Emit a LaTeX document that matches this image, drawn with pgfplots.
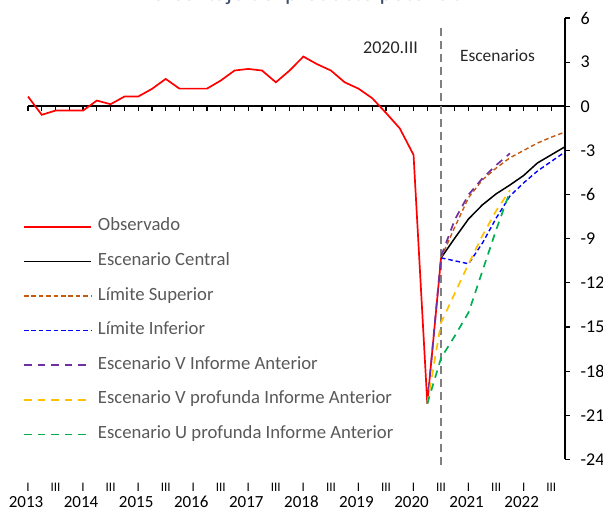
\documentclass[border=0pt]{standalone}
\usepackage{fontspec}
\setmainfont{Carlito}
\usepackage{pgfplots}
\pgfplotsset{compat=1.18}
\definecolor{cOrange}{HTML}{C55A11}
\definecolor{cBlue}{HTML}{0000FF}
\definecolor{cPurple}{HTML}{7030A0}
\definecolor{cYellow}{HTML}{FFC000}
\definecolor{cGreen}{HTML}{00B050}
\definecolor{cRed}{HTML}{FF0000}
\definecolor{cGray}{HTML}{808080}
\definecolor{cText}{HTML}{595959}
\definecolor{cTitle}{HTML}{3B4E6B}

\pgfplotstableread{
q val
0 0.66
1 -0.58
2 -0.29
3 -0.29
4 -0.29
5 0.39
6 0.14
7 0.66
8 0.66
9 1.18
10 1.86
11 1.2
12 1.2
13 1.2
14 1.75
15 2.43
16 2.54
17 2.43
18 1.63
19 2.43
20 3.38
21 2.86
22 2.43
23 1.63
24 1.2
25 0.55
26 -0.45
27 -1.5
28 -3.3
29 -20.2
30 -10.3
}\observado

\pgfplotstableread{
q val
30 -10.3
31 -8.95
32 -7.65
33 -6.7
34 -5.95
35 -5.35
36 -4.7
37 -3.85
38 -3.3
39 -2.75
}\central

\pgfplotstableread{
q val
30 -10.3
31 -8.2
32 -6.2
33 -5.0
34 -4.2
35 -3.5
36 -3.0
37 -2.5
38 -2.1
39 -1.75
}\superior

\pgfplotstableread{
q val
30 -10.3
31 -10.5
32 -10.7
33 -9.3
34 -7.6
35 -6.1
36 -5.2
37 -4.4
38 -3.75
39 -3.1
}\inferior

\pgfplotstableread{
q val
29 -20.2
30 -10.2
31 -7.7
32 -6.0
33 -4.9
34 -4.0
35 -3.2
}\escV

\pgfplotstableread{
q val
29 -20.2
30 -14.7
31 -12.7
32 -10.7
33 -8.8
34 -7.1
35 -5.7
}\escVprof

\pgfplotstableread{
q val
29 -20.2
30 -17.1
31 -15.6
32 -14.0
33 -11.2
34 -8.4
35 -5.8
}\escUprof

\begin{document}
\begin{tikzpicture}[x=1pt,y=1pt]
\path[use as bounding box] (0,0) rectangle (603,513);

% bottom tick labels (quarters and years)
\begin{axis}[
  at={(28pt,53.5pt)}, anchor=south west,
  scale only axis, width=537pt, height=441.5pt,
  xmin=0, xmax=39, ymin=-24, ymax=6,
  axis x line*=bottom, axis y line=none,
  x axis line style={draw=none},
  major tick length=0pt, tick style={draw=none},
  xtick={0,2,...,38},
  xticklabels={I,III,I,III,I,III,I,III,I,III,I,III,I,III,I,III,I,III,I,III},
  xticklabel style={anchor=base, inner sep=0pt, yshift=-32pt, font=\fontsize{13}{13}\selectfont, text=black},
  extra x ticks={0,4,...,36},
  extra x tick labels={2013,2014,2015,2016,2017,2018,2019,2020,2021,2022},
  extra x tick style={xticklabel style={anchor=base, inner sep=0pt, yshift=-16.5pt, xshift=-2pt, font=\fontsize{17}{17}\selectfont}},
  /pgf/number format/assume math mode=true,
]
\addplot[draw=none] coordinates {(0,0)};
\end{axis}

\begin{axis}[
  at={(28pt,53.5pt)}, anchor=south west,
  scale only axis, width=537pt, height=441.5pt,
  xmin=0, xmax=39, ymin=-24, ymax=6,
  axis x line=middle, axis y line=right,
  every inner x axis line/.append style={-, line width=1.6pt},
  every outer y axis line/.append style={-, line width=1.2pt},
  axis line style={-},
  hide obscured x ticks=false,
  xtick={0,...,39}, xticklabels={},
  x tick style={line width=1.2pt, black},
  xtick align=outside,
  ytick={-24,-21,...,6},
  y tick style={line width=1.2pt, black},
  ytick align=outside,
  major tick length=4.5pt,
  yticklabel style={anchor=west, inner sep=0pt, xshift=11pt, font=\fontsize{18}{18}\selectfont},
  /pgf/number format/assume math mode=true,
  clip=false,
  legend cell align=left,
  legend image code/.code={\draw[#1] (0pt,0pt) -- (67pt,0pt);},
  legend style={
    at={(axis description cs:-0.0093,0.5456)}, anchor=north west,
    draw=none, fill=none, inner sep=0pt,
    font=\fontsize{18.7}{18.7}\selectfont,
    row sep=18.6pt,
    nodes={inner sep=0pt, text height=12pt, text depth=4pt},
    /tikz/every odd column/.append style={column sep=6pt},
  },
]
\addplot[cGray, line width=2pt, dash pattern=on 8pt off 5pt, forget plot] coordinates {(30,5.3) (30,-24.7)};
\addplot[color=cRed, line width=1.7pt] table[x=q,y=val] {\observado};
\addlegendentry{\textcolor{cText}{Observado}}
\addplot[color=black, line width=1.5pt] table[x=q,y=val] {\central};
\addlegendentry{\textcolor{cText}{Escenario Central}}
\addplot[color=cOrange, line width=1.4pt, dash pattern=on 4.5pt off 2.9pt] table[x=q,y=val] {\superior};
\addlegendentry{\textcolor{cText}{Límite Superior}}
\addplot[color=cBlue, line width=1.4pt, dash pattern=on 4.5pt off 2.9pt] table[x=q,y=val] {\inferior};
\addlegendentry{\textcolor{cText}{Límite Inferior}}
\addplot[color=cPurple, line width=1.7pt, dash pattern=on 7.5pt off 6pt] table[x=q,y=val] {\escV};
\addlegendentry{\textcolor{cText}{Escenario V Informe Anterior}}
\addplot[color=cYellow, line width=1.7pt, dash pattern=on 7.5pt off 6pt] table[x=q,y=val] {\escVprof};
\addlegendentry{\textcolor{cText}{Escenario V profunda Informe Anterior}}
\addplot[color=cGreen, line width=1.7pt, dash pattern=on 7.5pt off 6pt] table[x=q,y=val] {\escUprof};
\addlegendentry{\textcolor{cText}{Escenario U profunda Informe Anterior}}
\end{axis}

\node[anchor=base, font=\fontsize{18}{18}\selectfont, text=black!85] at (390.5,459) {2020.III};
\node[anchor=base, font=\fontsize{17.4}{17.4}\selectfont, text=black!85] at (497.5,451.5) {Escenarios};
\node[anchor=base, font=\fontsize{24}{24}\selectfont, text=cTitle] at (305,512) {Porcentaje del producto potencial};
\end{tikzpicture}
\end{document}
